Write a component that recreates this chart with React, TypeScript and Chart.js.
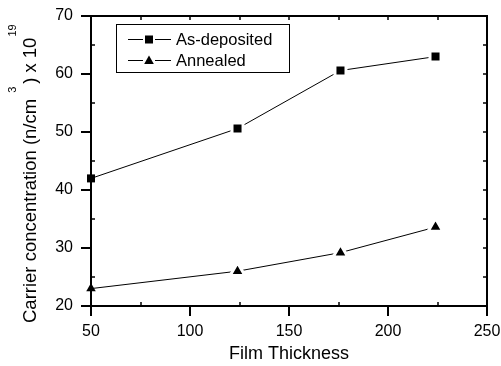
import { useEffect, useRef } from "react";
import { Chart, registerables } from "chart.js";

Chart.register(...registerables);

const thickness = [50, 124, 176, 224];
const asDeposited = [42, 50.6, 60.6, 63];
const annealed = [23, 26, 29.2, 33.6];
const legendLabels = ["As-deposited", "Annealed"];
const xMajor = [50, 100, 150, 200, 250];
const xMinor = [75, 125, 175, 225];
const yMajor = [20, 30, 40, 50, 60, 70];
const yMinor = [25, 35, 45, 55, 65];

const FONT = "'Liberation Sans', Arial, sans-serif";

const framePlugin = {
  id: "frame",
  afterDraw(chart: any) {
    const { ctx, chartArea, scales } = chart;
    const { left, right, top, bottom } = chartArea;
    const xs = scales.x;
    const ys = scales.y;
    ctx.save();
    ctx.strokeStyle = "#000";
    ctx.lineWidth = 2;
    // top & right frame
    ctx.beginPath();
    ctx.moveTo(left - 1, top);
    ctx.lineTo(right, top);
    ctx.lineTo(right, bottom + 1);
    ctx.stroke();
    // inward ticks
    const tin = 4;
    ctx.lineWidth = 1.5;
    ctx.beginPath();
    xMinor.forEach((v) => {
      const px = Math.round(xs.getPixelForValue(v));
      ctx.moveTo(px, bottom);
      ctx.lineTo(px, bottom - tin);
    });
    [...xMajor, ...xMinor].forEach((v) => {
      const px = Math.round(xs.getPixelForValue(v));
      ctx.moveTo(px, top);
      ctx.lineTo(px, top + tin);
    });
    yMinor.forEach((v) => {
      const py = Math.round(ys.getPixelForValue(v));
      ctx.moveTo(left, py);
      ctx.lineTo(left + tin, py);
    });
    [...yMajor, ...yMinor].forEach((v) => {
      const py = Math.round(ys.getPixelForValue(v));
      ctx.moveTo(right, py);
      ctx.lineTo(right - tin, py);
    });
    ctx.stroke();

    // legend
    const bx = 116, by = 24, bw = 173, bh = 48;
    ctx.fillStyle = "#fff";
    ctx.fillRect(bx, by, bw, bh);
    ctx.lineWidth = 1;
    ctx.strokeRect(bx + 0.5, by + 0.5, bw, bh);
    const rows = [39, 60];
    rows.forEach((ry, i) => {
      ctx.beginPath();
      ctx.moveTo(128, ry + 0.5);
      ctx.lineTo(143, ry + 0.5);
      ctx.moveTo(155, ry + 0.5);
      ctx.lineTo(171, ry + 0.5);
      ctx.stroke();
      ctx.fillStyle = "#000";
      if (i === 0) {
        ctx.fillRect(145, ry - 3.5, 8, 8);
      } else {
        ctx.beginPath();
        ctx.moveTo(149, ry - 4.5);
        ctx.lineTo(153.8, ry + 4);
        ctx.lineTo(144.2, ry + 4);
        ctx.closePath();
        ctx.fill();
      }
      ctx.font = `16.5px ${FONT}`;
      ctx.textBaseline = "middle";
      ctx.textAlign = "left";
      ctx.fillText(legendLabels[i], 176, ry + 1);
    });

    // y-axis title with superscripts
    ctx.translate(31, 323);
    ctx.rotate(-Math.PI / 2);
    ctx.textBaseline = "middle";
    ctx.textAlign = "left";
    ctx.font = `18.5px ${FONT}`;
    const t1 = "Carrier concentration (n/cm";
    ctx.fillText(t1, 0, 0);
    let w = ctx.measureText(t1).width;
    ctx.font = `11px ${FONT}`;
    ctx.fillText("3", w + 6, -18.5);
    w += 15;
    ctx.font = `18.5px ${FONT}`;
    const t2 = ") x 10";
    ctx.fillText(t2, w, 0);
    w += ctx.measureText(t2).width;
    ctx.font = `11px ${FONT}`;
    ctx.fillText("19", w + 1, -18.5);
    ctx.restore();
  },
};

export default function App() {
  const ref = useRef<HTMLCanvasElement>(null);
  useEffect(() => {
    document.body.style.margin = "0";
    const canvas = ref.current;
    if (!canvas) return;
    const sqR = (c: any) => (c.dataIndex === 0 ? 5.66 : 7.8);
    const trR = (c: any) => (c.dataIndex === 0 ? 5.5 : 8.5);
    const bw = (c: any) => (c.dataIndex === 0 ? 0 : 3);
    const chart = new Chart(canvas, {
      type: "line",
      data: {
        datasets: [
          {
            label: legendLabels[0],
            data: thickness.map((x, i) => ({ x, y: asDeposited[i] })),
            borderColor: "#000",
            borderWidth: 1,
            pointStyle: "rect",
            pointRadius: sqR,
            pointBackgroundColor: "#000",
            pointBorderColor: "#fff",
            pointBorderWidth: bw,
            clip: false,
          },
          {
            label: legendLabels[1],
            data: thickness.map((x, i) => ({ x, y: annealed[i] })),
            borderColor: "#000",
            borderWidth: 1,
            pointStyle: "triangle",
            pointRadius: trR,
            pointBackgroundColor: "#000",
            pointBorderColor: "#fff",
            pointBorderWidth: bw,
            clip: false,
          },
        ],
      },
      options: {
        animation: false,
        responsive: false,
        devicePixelRatio: 1,
        events: [],
        layout: { padding: { top: 16, right: 14, left: 0, bottom: 0 } },
        plugins: { legend: { display: false }, tooltip: { enabled: false } },
        scales: {
          x: {
            type: "linear",
            min: 50,
            max: 250,
            afterFit: (s: any) => {
              s.height = 60;
              s.paddingLeft = 0;
              s.paddingRight = 0;
            },
            afterBuildTicks: (s: any) => {
              s.ticks = xMajor.map((v) => ({ value: v }));
            },
            ticks: {
              font: { family: FONT, size: 16 },
              color: "#000",
              padding: 6,
              maxRotation: 0,
            },
            grid: {
              drawOnChartArea: false,
              tickLength: 10,
              color: "#000",
              lineWidth: 2,
            },
            border: { color: "#000", width: 2 },
            title: {
              display: true,
              text: "Film Thickness",
              font: { family: FONT, size: 18 },
              color: "#000",
              padding: { top: 0, bottom: 1 },
            },
          },
          y: {
            type: "linear",
            min: 20,
            max: 70,
            afterFit: (s: any) => {
              s.width = 91;
              s.paddingTop = 0;
              s.paddingBottom = 0;
            },
            afterBuildTicks: (s: any) => {
              s.ticks = yMajor.map((v) => ({ value: v }));
            },
            ticks: {
              font: { family: FONT, size: 16 },
              color: "#000",
              padding: 8,
            },
            grid: {
              drawOnChartArea: false,
              tickLength: 10,
              color: "#000",
              lineWidth: 2,
            },
            border: { color: "#000", width: 2 },
          },
        },
      },
      plugins: [framePlugin],
    });
    return () => chart.destroy();
  }, []);
  return <canvas ref={ref} width={501} height={366} style={{ display: "block" }} />;
}
